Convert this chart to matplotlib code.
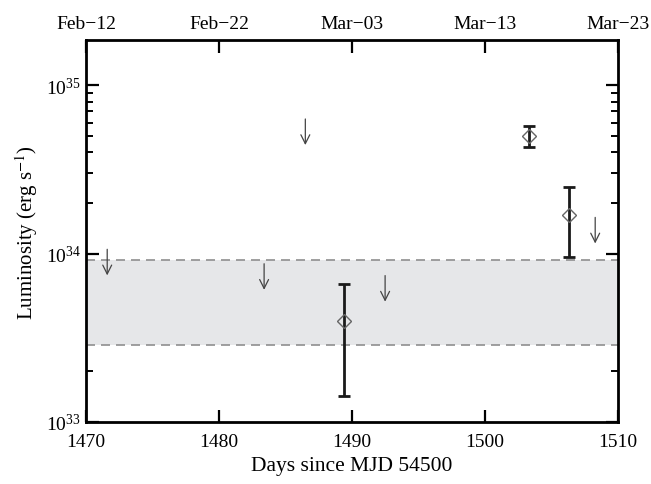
import matplotlib
matplotlib.use("Agg")
import matplotlib.pyplot as plt
from matplotlib.ticker import LogLocator, NullFormatter, LogFormatterMathtext

plt.rcParams['font.family'] = ['Liberation Serif', 'DejaVu Serif']
plt.rcParams['mathtext.fontset'] = 'stix'

# Detections (days since MJD 54500, luminosity, errors)
det_days = [1489.4, 1503.3, 1506.3]
det_lum = [4.0e33, 5.0e34, 1.70e34]
det_hi = [6.55e33, 5.7e34, 2.47e34]
det_lo = [1.42e33, 4.3e34, 9.6e33]

# Upper limits
ul_days = [1471.6, 1483.4, 1486.5, 1492.5, 1508.3]
ul_lum = [1.06e34, 8.7e33, 6.3e34, 7.4e33, 1.64e34]

# Quiescent band
band_lo = 2.85e33
band_hi = 9.1e33

xticks_bottom = [1470, 1480, 1490, 1500, 1510]
xtick_top_labels = ['Feb\u221212', 'Feb\u221222', 'Mar\u221203', 'Mar\u221213', 'Mar\u221223']

fig = plt.figure(figsize=(6.51, 4.85), dpi=100)
ax = fig.add_axes([0.132, 0.128, 0.817, 0.787])
ax.set_yscale('log')
ax.set_xlim(1470, 1510)
ax.set_ylim(1e33, 1.85e35)

ax.axhspan(band_lo, band_hi, color='#e6e7e9', lw=0, zorder=2.6)
for v in (band_lo, band_hi):
    ax.axhline(v, color='#8f8f8f', lw=1.2, dashes=(5.4, 3.6), zorder=2.7)

yerr = [[l - lo for l, lo in zip(det_lum, det_lo)], [hi - l for l, hi in zip(det_lum, det_hi)]]
ax.errorbar(det_days, det_lum, yerr=yerr, fmt='none', ecolor='#1a1a1a', elinewidth=2.0,
            capsize=4, capthick=2.0, zorder=4)
ax.plot(det_days, det_lum, linestyle='none', marker='D', markersize=7.5, mfc='none',
        mec='#666666', mew=1.0, zorder=5)

for d, u in zip(ul_days, ul_lum):
    ax.annotate('', xy=(d, u * 0.70), xytext=(d, u),
                arrowprops=dict(arrowstyle='->', color='#444444', lw=0.9,
                                mutation_scale=16, shrinkA=0, shrinkB=0), zorder=6)

for s in ax.spines.values():
    s.set_linewidth(2.0)
    s.set_zorder(3)

ax.set_xticks(xticks_bottom)
ax.yaxis.set_major_locator(LogLocator(base=10, numticks=10))
ax.yaxis.set_minor_locator(LogLocator(base=10, subs=range(2, 10), numticks=20))
ax.yaxis.set_major_formatter(LogFormatterMathtext())
ax.yaxis.set_minor_formatter(NullFormatter())
ax.tick_params(axis='both', which='major', direction='in', length=9, width=1.6,
               labelsize=14, right=True, top=False)
ax.tick_params(axis='y', which='minor', direction='in', length=5, width=1.4, right=True)
ax.tick_params(axis='x', which='major', pad=8)

ax.set_xlabel('Days since MJD 54500', fontsize=15.5)
ax.set_ylabel('Luminosity (erg s$^{-1}$)', fontsize=15)

ax2 = ax.twiny()
ax2.set_xlim(ax.get_xlim())
ax2.set_xticks(xticks_bottom)
ax2.set_xticklabels(xtick_top_labels)
ax2.tick_params(axis='x', direction='in', length=9, width=1.6, labelsize=14, pad=6)
for s in ax2.spines.values():
    s.set_visible(False)

fig.savefig('out.png', dpi=100)
